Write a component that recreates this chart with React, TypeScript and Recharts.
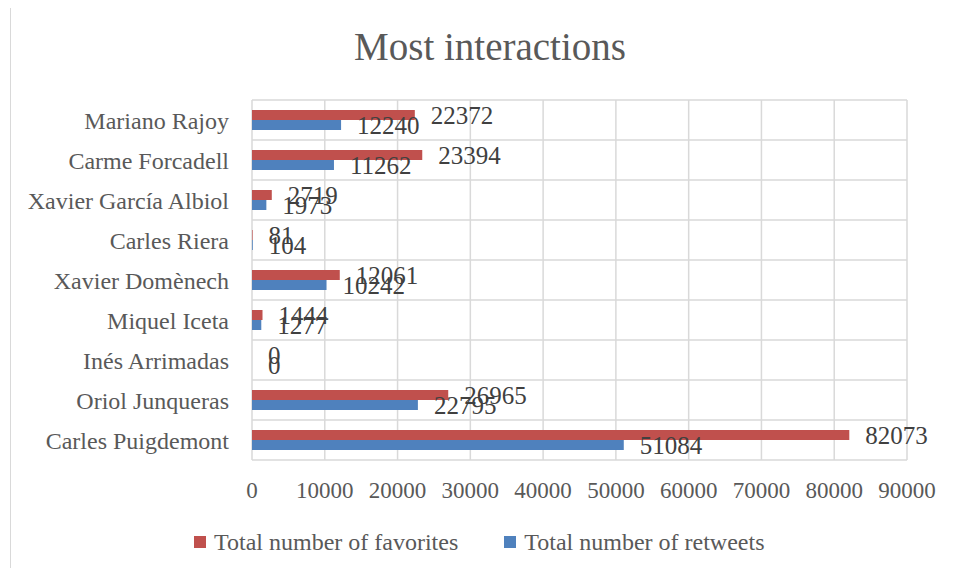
import React from 'react';
import { Bar, BarChart, CartesianGrid, LabelList, XAxis, YAxis } from 'recharts';

const politicians = [
  'Mariano Rajoy',
  'Carme Forcadell',
  'Xavier García Albiol',
  'Carles Riera',
  'Xavier Domènech',
  'Miquel Iceta',
  'Inés Arrimadas',
  'Oriol Junqueras',
  'Carles Puigdemont',
];
const favorites = [22372, 23394, 2719, 81, 12061, 1444, 0, 26965, 82073];
const retweets = [12240, 11262, 1973, 104, 10242, 1277, 0, 22795, 51084];
const xTicks = [0, 10000, 20000, 30000, 40000, 50000, 60000, 70000, 80000, 90000];

const SERIES = [
  { key: 'favorites', name: 'Total number of favorites', color: '#C0504D' },
  { key: 'retweets', name: 'Total number of retweets', color: '#4F81BD' },
];

const FONT = "'Liberation Serif', serif";
const TEXT = '#595959';

const data = politicians.map((name, i) => ({
  name,
  favorites: favorites[i],
  retweets: retweets[i],
}));

// lines at category boundaries, like the Excel original
const bandLines = ({ offset }: any) =>
  Array.from({ length: politicians.length + 1 }, (_, i) => offset.top + (i * offset.height) / politicians.length);

export default function App() {
  return (
    <div
      style={{
        position: 'relative',
        width: 960,
        height: 576,
        margin: -8,
        overflow: 'hidden',
        background: '#fff',
        fontFamily: FONT,
      }}
    >
      <div
        style={{
          position: 'absolute',
          left: 10,
          top: 3,
          width: 1000,
          height: 620,
          border: '1px solid #d9d9d9',
        }}
      />
      <div
        style={{
          position: 'absolute',
          left: 0,
          width: 980,
          top: 27,
          textAlign: 'center',
          fontSize: 39,
          lineHeight: '39px',
          color: TEXT,
        }}
      >
        Most interactions
      </div>
      <BarChart
        width={960}
        height={576}
        data={data}
        layout="vertical"
        margin={{ top: 100, right: 53, bottom: 76, left: 0 }}
        barCategoryGap="25%"
        barGap={0}
        style={{ position: 'absolute', left: 0, top: 0 }}
      >
        <CartesianGrid stroke="#d9d9d9" strokeWidth={1.5} horizontalCoordinatesGenerator={bandLines} />
        <XAxis
          type="number"
          domain={[0, 90000]}
          ticks={xTicks}
          interval={0}
          axisLine={false}
          tickLine={false}
          tickMargin={16}
          height={40}
          tick={{ fill: TEXT, fontSize: 23, fontFamily: FONT }}
        />
        <YAxis
          type="category"
          dataKey="name"
          width={252}
          axisLine={false}
          tickLine={false}
          tickMargin={17}
          interval={0}
          tick={{ fill: TEXT, fontSize: 24, fontFamily: FONT }}
        />
        {SERIES.map((s) => (
          <Bar
            key={s.key}
            dataKey={s.key}
            name={s.name}
            fill={s.color}
            minPointSize={0.01}
            isAnimationActive={false}
          >
            <LabelList
              dataKey={s.key}
              position="right"
              offset={16}
              fill="#404040"
              fontSize={25}
              fontFamily={FONT}
            />
          </Bar>
        ))}
      </BarChart>
      <div
        style={{
          position: 'absolute',
          left: 194,
          top: 527,
          height: 30,
          display: 'flex',
          alignItems: 'center',
          fontSize: 24,
          color: TEXT,
        }}
      >
        {SERIES.map((s, i) => (
          <div key={s.key} style={{ display: 'flex', alignItems: 'center', marginRight: i === 0 ? 46 : 0 }}>
            <span style={{ display: 'inline-block', width: 12, height: 12, background: s.color, marginRight: 8 }} />
            <span>{s.name}</span>
          </div>
        ))}
      </div>
    </div>
  );
}
